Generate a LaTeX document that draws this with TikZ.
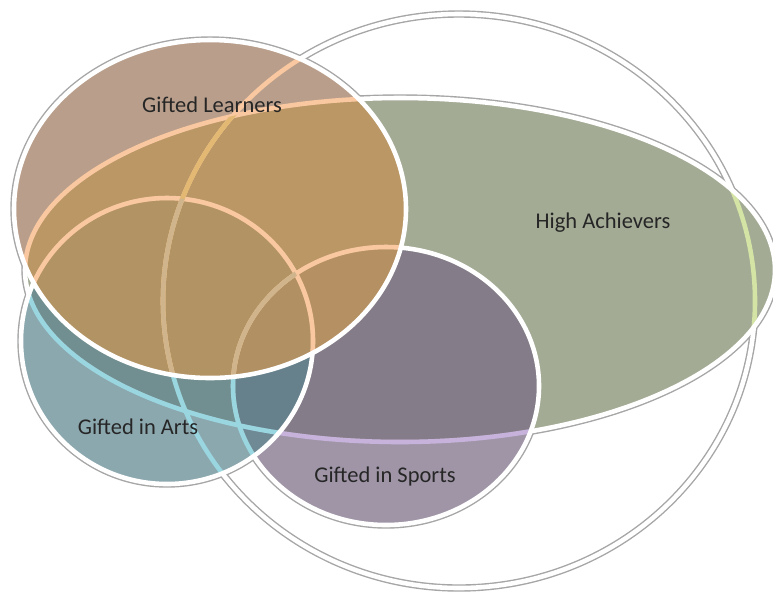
\documentclass[tikz,border=0pt]{standalone}
\usepackage{fontspec}
\setmainfont{Carlito}
\usepackage{xcolor}

\definecolor{learnersfill}{RGB}{156,119,91}
\definecolor{achieversfill}{RGB}{124,136,105}
\definecolor{artsfill}{RGB}{92,132,142}
\definecolor{sportsfill}{RGB}{119,105,131}
\definecolor{warmfill}{RGB}{214,169,95}
\definecolor{peachline}{RGB}{250,200,160}
\definecolor{goldline}{RGB}{226,184,114}
\definecolor{tanline}{RGB}{208,180,140}
\definecolor{cyanline}{RGB}{154,214,224}
\definecolor{lilacline}{RGB}{198,178,218}
\definecolor{greenline}{RGB}{212,228,164}
\definecolor{textgray}{RGB}{38,38,38}

% the five outlines
\newcommand\outerpath{(459,301) ellipse [x radius=296, y radius=287]}
\newcommand\achpath{(400,270) ellipse [x radius=375, y radius=172]}
\newcommand\lrnpath{(210,209) ellipse [x radius=196, y radius=169]}
\newcommand\artpath{(167,341) ellipse [x radius=146, y radius=143]}
\newcommand\sptpath{(386,386) ellipse [x radius=153, y radius=139]}

\tikzset{
  rim/.style={draw=black!35, line width=4.2pt},
  edge/.style={draw=white, line width=2.6pt},
  tint/.style={line width=2.6pt},
  setname/.style={font=\fontsize{12.8}{14}\selectfont, text=textgray, anchor=base, inner sep=0pt}
}

\begin{document}
\begin{tikzpicture}[x=0.02cm,y=-0.02cm]
    \useasboundingbox (0,0) rectangle (773,593);
    \draw[rim] \outerpath \achpath \lrnpath \artpath \sptpath;
    \fill[white] \achpath \lrnpath \artpath \sptpath;
    \draw[edge] \outerpath;

    % high achievers
    \fill[achieversfill,fill opacity=0.7] \achpath;
    \begin{scope}
      \clip \achpath;
      \draw[tint,greenline] \outerpath;
    \end{scope}
    \draw[edge] \achpath;

    % sports
    \fill[sportsfill,fill opacity=0.7] \sptpath;
    \begin{scope}
      \clip \sptpath;
      \draw[tint,lilacline] \achpath;
    \end{scope}
    \draw[edge] \sptpath;

    % arts
    \fill[artsfill,fill opacity=0.7] \artpath;
    \begin{scope}
      \clip \artpath;
      \draw[tint,cyanline] \achpath \outerpath \sptpath;
    \end{scope}
    \draw[edge] \artpath;

    % learners
    \fill[learnersfill,fill opacity=0.7] \lrnpath;
    \begin{scope}
      \clip \achpath;
      \fill[warmfill,fill opacity=0.5] \lrnpath;
    \end{scope}
    \begin{scope}
      \clip \lrnpath;
      \draw[tint,peachline] \achpath \outerpath \sptpath \artpath;
      \clip \achpath;
      \draw[tint,goldline] \outerpath;
    \end{scope}
    \begin{scope}
      \clip \lrnpath;
      \clip \artpath;
      \draw[tint,tanline] \outerpath \sptpath;
    \end{scope}
    \draw[edge] \lrnpath;

    \node[setname] (learners) at (212,112) {Gifted Learners};
    \node[setname] (achievers) at (603,228) {High Achievers};
    \node[setname] (arts) at (138,434) {Gifted in Arts};
    \node[setname] (sports) at (385,482) {Gifted in Sports};
\end{tikzpicture}
\end{document}
